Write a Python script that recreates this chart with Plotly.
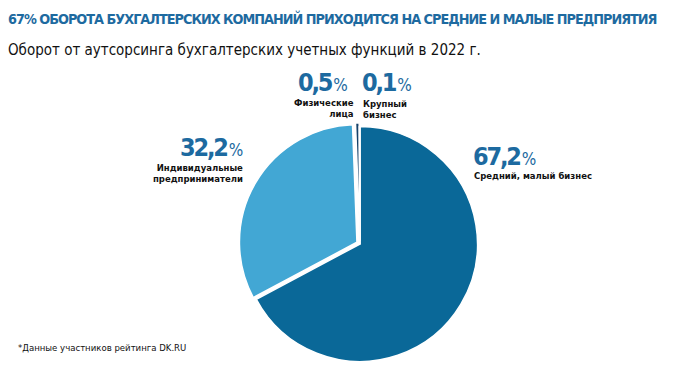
import plotly.graph_objects as go

categories = ["Средний, малый бизнес", "Индивидуальные предприниматели", "Физические лица", "Крупный бизнес"]
values = [67.2, 32.2, 0.5, 0.1]
value_labels = ["67,2", "32,2", "0,5", "0,1"]
colors = ["#0a6898", "#42a7d4", "#16426a", "#1b3350"]

title = "67% ОБОРОТА БУХГАЛТЕРСКИХ КОМПАНИЙ ПРИХОДИТСЯ НА СРЕДНИЕ И МАЛЫЕ ПРЕДПРИЯТИЯ"
subtitle = "Оборот от аутсорсинга бухгалтерских учетных функций в 2022 г."
footnote = "*Данные участников рейтинга DK.RU"

OFF = 8  # page body margin
W, H = 697 - OFF, 366 - OFF
pull = 0.03
cx, cy, r = 360 - OFF, 244 - OFF, 117.5 * (1 + pull)

fig = go.Figure(go.Pie(
    labels=categories, values=values, sort=False, direction="clockwise", rotation=0,
    marker=dict(colors=colors, line=dict(color="white", width=1.5)),
    pull=[0, pull, pull, 0], textinfo="none", hoverinfo="label+value",
    domain=dict(x=[(cx - r) / W, (cx + r) / W], y=[(H - cy - r) / H, (H - cy + r) / H]),
))

BLUE = "#1d6aa0"
FAM = "DejaVu Sans, sans-serif"
COND = "font-stretch:condensed"

def px(x):
    return (x - OFF) / W

def py(y):
    return 1 - (y - OFF) / H

ann = []
def num(text, x, y, anchor):
    ann.append(dict(text=(f"<span style='{COND};letter-spacing:-2.2px'><b>{text}</b></span>"
                          f"<span style='{COND};font-size:17px;letter-spacing:-1px'>\u2009%</span>"),
                    x=px(x), y=py(y), xanchor=anchor, yanchor="middle", showarrow=False,
                    font=dict(family=FAM, size=25, color=BLUE)))

def lbl(text, x, y, anchor, align):
    ann.append(dict(text=f"<b>{text}</b>", x=px(x), y=py(y), xanchor=anchor, yanchor="top",
                    showarrow=False, align=align,
                    font=dict(family=FAM, size=8.5, color="#111111")))

num(value_labels[2], 349, 83, "right")
lbl("Физические<br>лица", 356, 96, "right", "right")
num(value_labels[3], 360, 83, "left")
lbl("Крупный<br>бизнес", 361, 97, "left", "left")
num(value_labels[1], 245, 147, "right")
lbl("Индивидуальные<br>предприниматели", 245, 161, "right", "right")
num(value_labels[0], 471, 157, "left")
lbl("Средний, малый бизнес", 472, 169, "left", "left")

ann.append(dict(text=f"<span style='{COND};letter-spacing:-1px'><b>{title}</b></span>", x=px(6), y=py(18),
                xanchor="left", yanchor="middle",
                showarrow=False, font=dict(family=FAM, size=14.3, color=BLUE)))
ann.append(dict(text=f"<span style='{COND}'>{subtitle}</span>", x=px(6), y=py(50), xanchor="left", yanchor="middle",
                showarrow=False, font=dict(family=FAM, size=15, color="#111111")))
ann.append(dict(text=f"<span style='{COND}'>{footnote}</span>", x=px(16), y=py(347), xanchor="left", yanchor="middle",
                showarrow=False, font=dict(family=FAM, size=9.5, color="#111111")))

fig.update_layout(width=W, height=H, margin=dict(l=0, r=0, t=0, b=0), showlegend=False,
                  paper_bgcolor="white", plot_bgcolor="white", annotations=ann)
fig.write_html("out.html")
